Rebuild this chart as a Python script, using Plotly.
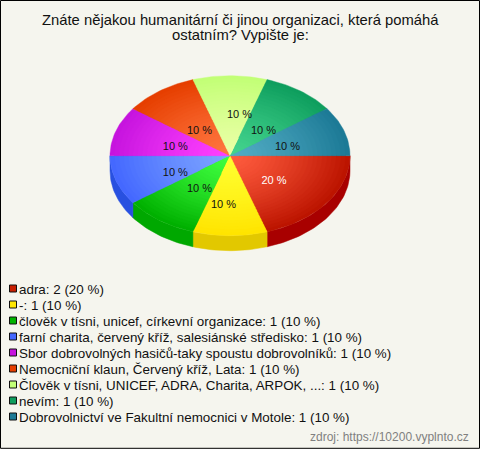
import math
import plotly.graph_objects as go

TITLE_LINES = ["Znáte nějakou humanitární či jinou organizaci, která pomáhá", "ostatním? Vypište je:"]
SOURCE = "zdroj: https://10200.vyplnto.cz"
categories = [
    "adra", "-", "člověk v tísni, unicef, církevní organizace",
    "farní charita, červený kříž, salesiánské středisko",
    "Sbor dobrovolných hasičů-taky spoustu dobrovolníků",
    "Nemocniční klaun, Červený kříž, Lata",
    "Člověk v tísni, UNICEF, ADRA, Charita, ARPOK, ...",
    "nevím",
    "Dobrovolnictví ve Fakultní nemocnici v Motole",
]
counts = [2, 1, 1, 1, 1, 1, 1, 1, 1]
percents = [20, 10, 10, 10, 10, 10, 10, 10, 10]

outer_colors = ["#BC1400", "#FFE400", "#00B000", "#4468FF", "#C614DE", "#E63E00", "#C2FF76", "#0E9E5E", "#1C7A96"]
inner_colors = ["#FF5C3E", "#FFFF30", "#40FF40", "#7CA4FF", "#FF40FF", "#FF7640", "#EAFFA6", "#44D48E", "#52ACC4"]
side_colors = ["#A80000", "#E2C800", "#00A800", "#2850E0", "#A000B0", "#C03000", "#A0D860", "#088048", "#106078"]
legend_colors = ["#C81E00", "#FFE600", "#00B400", "#4468FF", "#C614DE", "#E63E00", "#C2FF76", "#0E9E5E", "#1C7A96"]
label_colors = ["white"] + ["#111111"] * 8
# pixel nudges that reproduce the label de-overlap of the original
label_nudge = [(-1.6, 0.8), (-6.5, 7.7), (2.7, -0.4), (-1.0, 4.4), (-1.0, 4.2), (2.7, 9.0), (9.5, 0.9), (0.3, 9.0), (3.9, 4.2)]

BG = "#F5F5EE"
CX, CY, RX, RY, DEPTH = 230, 155.7, 120, 80, 15
STEPS = 26


def hex2rgb(h):
    return tuple(int(h[i:i + 2], 16) for i in (1, 3, 5))


def mix(a, b, t):
    ca, cb = hex2rgb(a), hex2rgb(b)
    return "rgb(%d,%d,%d)" % tuple(round(x + (y - x) * t) for x, y in zip(ca, cb))


def arc(a0, a1, scale=1.0, dy=0.0):
    n = max(2, int(abs(a1 - a0) / 1.5))
    pts = [math.radians(a0 + (a1 - a0) * i / n) for i in range(n + 1)]
    return ([CX + RX * scale * math.cos(p) for p in pts],
            [CY + dy + RY * scale * math.sin(p) for p in pts])


fig = go.Figure()
total = sum(counts)
spans, start = [], 0.0
for c in counts:
    spans.append((start, start + 360.0 * c / total))
    start += 360.0 * c / total

# side wall (visible front half only)
for (a0, a1), col in zip(spans, side_colors):
    lo, hi = a0, min(a1, 180.0)
    if hi <= lo:
        continue
    tx, ty = arc(lo, hi)
    bx, by = arc(hi, lo, dy=DEPTH)
    fig.add_trace(go.Scatter(x=tx + bx + tx[:1], y=ty + by + ty[:1], mode="lines", fill="toself",
                             fillcolor=col, line=dict(color=col, width=0.5), hoverinfo="skip"))

# top surface, radial gradient made from nested wedges
for step in range(STEPS):
    s = 1.0 - step / STEPS
    for (a0, a1), o, i in zip(spans, outer_colors, inner_colors):
        col = mix(i, o, s ** 1.3)
        ax, ay = arc(a0, a1, scale=s)
        fig.add_trace(go.Scatter(x=[CX] + ax + [CX], y=[CY] + ay + [CY], mode="lines", fill="toself",
                                 fillcolor=col, line=dict(color=col, width=0.4), hoverinfo="skip"))

# percent labels
lx, ly = [], []
for (a0, a1), (nx, ny) in zip(spans, label_nudge):
    m = math.radians((a0 + a1) / 2)
    lx.append(CX + RX * 0.47 * math.cos(m) + nx)
    ly.append(CY + RY * 0.52 * math.sin(m) + ny)
fig.add_trace(go.Scatter(x=lx, y=ly, mode="text", text=[f"{p} %" for p in percents],
                         textposition="middle center", hoverinfo="skip",
                         textfont=dict(family="Liberation Sans", size=11, color=label_colors)))

# legend
row_y = [288.5 + 16 * i for i in range(len(categories))]
text_y = [y + 1.8 for y in row_y]
fig.add_trace(go.Scatter(
    x=[13] * len(categories), y=row_y, mode="markers", hoverinfo="skip",
    marker=dict(symbol="square", size=7, color=legend_colors, line=dict(color="#111111", width=1))))
fig.add_trace(go.Scatter(
    x=[19] * len(categories), y=text_y, mode="text",
    text=[f"{n}: {c} ({p} %)" for n, c, p in zip(categories, counts, percents)],
    textposition="middle right", hoverinfo="skip",
    textfont=dict(family="Liberation Sans", size=13.4, color="#111111")))

fig.update_layout(
    width=480, height=449, margin=dict(l=0, r=0, t=0, b=0), showlegend=False,
    paper_bgcolor=BG, plot_bgcolor=BG,
    xaxis=dict(range=[0, 480], visible=False, fixedrange=True),
    yaxis=dict(range=[449, 0], visible=False, fixedrange=True),
    annotations=[
        dict(x=240.5, y=20, xref="x", yref="y", text=TITLE_LINES[0], showarrow=False,
             font=dict(family="Liberation Sans", size=14.8, color="#111111")),
        dict(x=240.5, y=34.5, xref="x", yref="y", text=TITLE_LINES[1], showarrow=False,
             font=dict(family="Liberation Sans", size=14.8, color="#111111")),
        dict(x=471, y=437, xref="x", yref="y", text=SOURCE, showarrow=False, xanchor="right",
             font=dict(family="Liberation Sans", size=12, color="#808080")),
    ],
    shapes=[dict(type="rect", xref="x", yref="y", x0=0.5, y0=0.5, x1=479.5, y1=448.3,
                 line=dict(color="#000000", width=1), fillcolor="rgba(0,0,0,0)")],
)
fig.write_html("out.html", config={"displayModeBar": False, "responsive": False},
               post_script="document.body.style.margin='0';document.documentElement.style.overflow='hidden';")
